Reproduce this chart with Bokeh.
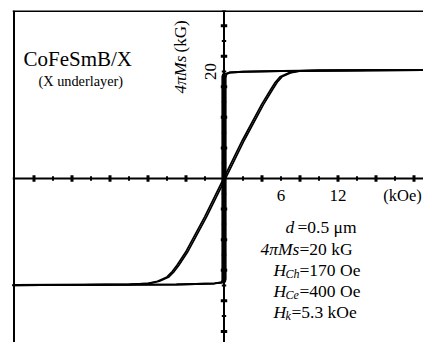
import math
from bokeh.plotting import figure
from bokeh.models import Span, Label
from bokeh.core.properties import value
from bokeh.embed import file_html
from bokeh.resources import INLINE

# ---------------- data ----------------
# easy-axis (square) loop, field in kOe, 4piMs in kG
easy_up_H = [-22.3, -5.0, -1.0, -0.3, 0.1, 0.17, 0.17, 0.25, 0.6, 2.0, 6.0, 21.5]
easy_up_M = [-19.9, -19.8, -19.6, -19.5, -19.3, -18.8, 18.8, 19.5, 19.8, 19.95, 20.1, 20.3]
easy_dn_H = [21.5, 6.0, 2.0, 0.6, 0.25, -0.1, -0.17, -0.17, -0.25, -1.0, -5.0, -22.3]
easy_dn_M = [20.3, 20.1, 19.95, 19.8, 19.6, 19.5, 19.0, -19.0, -19.4, -19.6, -19.8, -19.9]

# hard-axis loop (two nearly overlapping branches)
hard_up_H = [-22.3, -10.0, -8.0, -7.0, -6.0, -5.45, -4.95, -4.05, -2.05, -0.05, 1.95, 3.95, 4.9, 5.4, 5.9, 6.9, 7.9, 9.9, 21.5]
hard_up_M = [-20.0, -19.8, -19.6, -19.2, -18.4, -17.4, -16.2, -13.8, -7.2, 0.0, 7.2, 13.8, 16.6, 18.0, 19.0, 19.8, 20.1, 20.2, 20.3]
hard_dn_H = [-22.3, -9.8, -7.8, -6.8, -5.8, -5.25, -4.75, -3.85, -1.85, 0.15, 2.15, 4.15, 5.1, 5.6, 6.1, 7.1, 8.1, 10.1, 21.5]
hard_dn_M = [-20.0, -19.8, -19.6, -19.2, -18.4, -17.4, -16.2, -13.8, -7.2, 0.0, 7.2, 13.8, 16.6, 18.0, 19.0, 19.8, 20.1, 20.2, 20.3]

x_major_ticks = [-20, -16, -12, -8, -4, 4, 8, 12, 16, 20]
x_minor_ticks = [-18, -14, -10, -6, -2, 2, 6, 10, 14, 18]
x_label_ticks = [6, 12]
x_label_text = ["6", "12"]

y_tick_step = 20.0 / 7.0
y_major_ticks = [k * 2 * y_tick_step for k in range(-5, 6) if k != 0]
y_minor_ticks = [(2 * k + 1) * y_tick_step for k in range(-6, 6)]
y_label_ticks = [20]
y_label_text = ["20"]

# ---------------- layout ----------------
OX, OY = 0, 0          # page offset of the canvas
W, H = 423, 342
MBL, MBT = 12, 10
FW, FH = W - MBL, H - MBT
X0, X1 = -22.263, 21.0
Y0, Y1 = -30.65, 31.40
PXX = FW / (X1 - X0)   # pixels per kOe
PXY = FH / (Y1 - Y0)   # pixels per kG

def dx(px):  # page pixel -> data x
    return X0 + (px - OX - MBL) / PXX

def dy(py):  # page pixel -> data y
    return Y1 - (py - OY - MBT) / PXY

SERIF = "Liberation Serif"

p = figure(width=W, height=H, x_range=(X0, X1), y_range=(Y0, Y1),
           output_backend="svg", toolbar_location=None,
           x_axis_location=None, y_axis_location=None,
           min_border_left=MBL, min_border_top=MBT,
           min_border_right=0, min_border_bottom=0,
           outline_line_color=None, background_fill_color="white",
           border_fill_color="white")
p.grid.visible = False

# frame lines (top and left)
p.add_layout(Span(location=dx(13.5), dimension="height", line_color="black", line_width=2))
p.add_layout(Span(location=dy(10.5), dimension="width", line_color="black", line_width=2))

# axes through the origin
p.add_layout(Span(location=0, dimension="width", line_color="black", line_width=2))
p.add_layout(Span(location=0, dimension="height", line_color="black", line_width=2))

# tick marks
hM, hm = 3.2 / PXY, 2.2 / PXY
p.segment(x0=x_major_ticks, x1=x_major_ticks, y0=[-hM] * len(x_major_ticks), y1=[hM] * len(x_major_ticks),
          line_color="black", line_width=3)
p.segment(x0=x_minor_ticks, x1=x_minor_ticks, y0=[-hm] * len(x_minor_ticks), y1=[hm] * len(x_minor_ticks),
          line_color="black", line_width=2)
wM, wm = 3.2 / PXX, 2.2 / PXX
p.segment(x0=[-wM] * len(y_major_ticks), x1=[wM] * len(y_major_ticks), y0=y_major_ticks, y1=y_major_ticks,
          line_color="black", line_width=3)
p.segment(x0=[-wm] * len(y_minor_ticks), x1=[wm] * len(y_minor_ticks), y0=y_minor_ticks, y1=y_minor_ticks,
          line_color="black", line_width=2)

# tick labels
p.text(x=x_label_ticks, y=[dy(195)] * len(x_label_ticks), text=x_label_text,
       text_font=value(SERIF), text_font_size="17px", text_align="center",
       text_baseline="middle", text_color="black")
p.text(x=[dx(210)] * len(y_label_ticks), y=y_label_ticks, text=y_label_text,
       text_font=value(SERIF), text_font_size="17px", text_align="center",
       text_baseline="middle", angle=math.pi / 2, text_color="black")

# curves
p.line(easy_up_H, easy_up_M, line_color="black", line_width=2)
p.line(easy_dn_H, easy_dn_M, line_color="black", line_width=2)
p.line(hard_up_H, hard_up_M, line_color="black", line_width=1.7)
p.line(hard_dn_H, hard_dn_M, line_color="black", line_width=1.7)

def lab(px, py, text, size, style="normal", angle=0.0, align="left", baseline="alphabetic"):
    p.add_layout(Label(x=dx(px), y=dy(py), text=text, text_font=SERIF, text_font_size=size,
                       text_font_style=style, angle=angle, text_align=align,
                       text_baseline=baseline, text_color="black"))

# title texts
lab(23, 58, "CoFeSmB/X", "21px", baseline="middle")
lab(38, 80, "(X underlayer)", "14.3px", baseline="middle")

# axis titles
lab(402, 195, "(kOe)", "16.5px", align="center", baseline="middle")
lab(180, 93, "4\u03c0Ms", "17px", style="italic", angle=math.pi / 2, baseline="middle")
lab(180, 52, "(kG)", "17px", angle=math.pi / 2, baseline="middle")

# parameter block
FS = "17.5px"
SUB = "12px"
lab(285, 226, "d", FS, style="italic")
lab(297, 226, "=0.5 \u03bcm", FS)
lab(260, 248, "4\u03c0Ms", FS, style="italic")
lab(299, 248, "=20 kG", FS)
lab(273, 269, "H", FS, style="italic")
lab(285, 273, "Ch", SUB, style="italic")
lab(299, 269, "=170 Oe", FS)
lab(273, 290, "H", FS, style="italic")
lab(285, 294, "Ce", SUB, style="italic")
lab(299, 290, "=400 Oe", FS)
lab(273, 311, "H", FS, style="italic")
lab(285, 315, "k", SUB, style="italic")
lab(291, 311, "=5.3 kOe", FS)

open("out.html", "w").write(file_html(p, INLINE))
